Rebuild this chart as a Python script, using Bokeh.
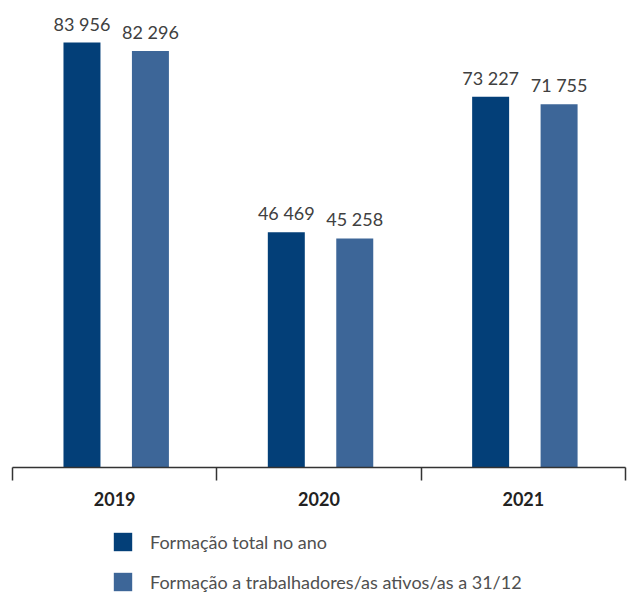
from bokeh.plotting import figure
from bokeh.models import Range1d, LinearAxis, FixedTicker, Legend, LegendItem, ColumnDataSource
from bokeh.core.properties import value
from bokeh.embed import file_html
from bokeh.resources import INLINE

years = ["2019", "2020", "2021"]
total = [83956, 46469, 73227]
ativos = [82296, 45258, 71755]
series_names = ["Formação total no ano", "Formação a trabalhadores/as ativos/as a 31/12"]

dark = "#033f78"
light = "#3d6698"

centers = [i + 0.5 for i in range(len(years))]
fmt = lambda v: f"{v:,}".replace(",", " ")

src_total = ColumnDataSource(dict(x=[c - 0.16 for c in centers], top=total, label=[fmt(v) for v in total]))
src_ativos = ColumnDataSource(dict(x=[c + 0.175 for c in centers], top=ativos, label=[fmt(v) for v in ativos]))

px_per_unit = 425 / 83956
ux = 613 / 3
p = figure(width=627, height=592, output_backend="svg", toolbar_location=None,
           x_axis_type=None, y_axis_type=None,
           x_range=Range1d(-12 / ux, 3 + 2 / ux),
           y_range=Range1d(-(592 - 467) / px_per_unit, 467 / px_per_unit),
           min_border_left=0, min_border_right=0, min_border_top=0, min_border_bottom=0)
p.outline_line_color = None
p.background_fill_color = "white"

r1 = p.vbar(x="x", top="top", width=0.181, bottom=0, source=src_total, fill_color=dark, line_color=None)
r2 = p.vbar(x="x", top="top", width=0.181, bottom=0, source=src_ativos, fill_color=light, line_color=None)

for src in (src_total, src_ativos):
    p.text(x="x", y="top", text="label", source=src, text_align="center", text_baseline="bottom",
           y_offset=-8, text_font=value("Lato"), text_font_size="18px", text_color="#404040")

ax = LinearAxis(fixed_location=0)
ax.ticker = FixedTicker(ticks=centers, minor_ticks=[0, 1, 2, 3])
ax.major_label_overrides = {c: y for c, y in zip(centers, years)}
ax.bounds = (0, 3)
ax.major_tick_out = 0
ax.major_tick_in = 0
ax.minor_tick_out = 13
ax.minor_tick_in = 0
ax.minor_tick_line_color = "#333333"
ax.minor_tick_line_width = 1.5
ax.axis_line_color = "#333333"
ax.axis_line_width = 1.5
ax.major_label_standoff = 11
ax.major_label_text_font = "Lato"
ax.major_label_text_font_style = "bold"
ax.major_label_text_font_size = "18px"
ax.major_label_text_color = "#222222"
p.add_layout(ax, "below")

legend = Legend(items=[LegendItem(label=series_names[0], renderers=[r1]),
                       LegendItem(label=series_names[1], renderers=[r2])],
                location=(111, -1), orientation="vertical")
legend.padding = 0
legend.margin = 0
legend.border_line_color = None
legend.background_fill_alpha = 0
legend.glyph_width = 23
legend.glyph_height = 23
legend.label_height = 23
legend.spacing = 17
legend.label_standoff = 16
legend.label_text_font = "Lato"
legend.label_text_font_size = "18px"
legend.label_text_color = "#505050"
p.add_layout(legend, "center")

open("out.html", "w").write(file_html(p, INLINE))
